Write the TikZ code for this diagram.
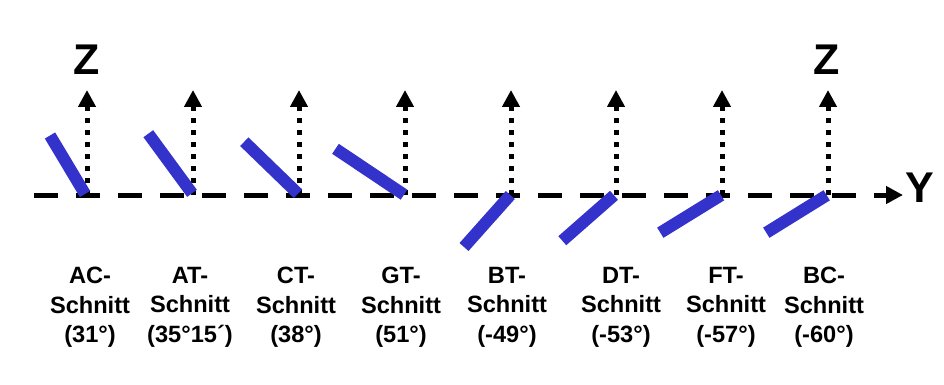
\documentclass[tikz,border=0pt]{standalone}
\usepackage{fontspec}
\setmainfont{Liberation Sans}
\usetikzlibrary{arrows.meta}
\definecolor{barblue}{RGB}{51,51,204}
\begin{document}
\begin{tikzpicture}[x=1pt,y=-1pt,
  tip/.style={-{Triangle[length=17pt,width=17pt]}},
  axisline/.style={line width=5pt, dash pattern=on 24pt off 18pt, tip},
  zaxis/.style={line width=5pt, dash pattern=on 5pt off 7pt, tip},
  crystal/.style={line width=12pt, barblue},
  lbl/.style={font=\bfseries\fontsize{23.6}{29.5}\selectfont, align=center, inner sep=0pt, anchor=north},
  axlbl/.style={font=\bfseries\fontsize{43}{43}\selectfont, inner sep=0pt}]
\useasboundingbox (0,0) rectangle (944,385);
% horizontal axis
\coordinate (ystart) at (34,195);
\coordinate (yend) at (903,195);
\draw[axisline] (ystart) -- (yend);
\node[axlbl] (ylab) at (919.5,187.4) {Y};
% vertical axes
\foreach \i/\x in {1/87,2/193,3/299,4/405,5/511,6/616,7/722,8/828}{
  \coordinate (o\i) at (\x,195);
  \coordinate (t\i) at (\x,90);
  \draw[zaxis] (o\i) -- (t\i);
}
\node[axlbl] (z1) at (87,60) {Z};
\node[axlbl] (z8) at (827,60) {Z};
% crystal cuts
\draw[crystal] (85,194) -- (50,135.5);
\draw[crystal] (192,193.3) -- (148.3,133.7);
\draw[crystal] (298,193.7) -- (244.3,141.7);
\draw[crystal] (404,194.7) -- (335.5,148.8);
\draw[crystal] (510.3,195) -- (464,247);
\draw[crystal] (614,195.3) -- (562.3,240.7);
\draw[crystal] (721,195.3) -- (660.3,232.7);
\draw[crystal] (826.7,195.3) -- (766.3,232.7);
% labels
\node[lbl] (l1) at (90,267) {AC-\\Schnitt\\(31°)};
\node[lbl] (l2) at (190,267) {AT-\\Schnitt\\(35°15´)};
\node[lbl] (l3) at (296,267) {CT-\\Schnitt\\(38°)};
\node[lbl] (l4) at (401,267) {GT-\\Schnitt\\(51°)};
\node[lbl] (l5) at (507,267) {BT-\\Schnitt\\(-49°)};
\node[lbl] (l6) at (621,267) {DT-\\Schnitt\\(-53°)};
\node[lbl] (l7) at (726,267) {FT-\\Schnitt\\(-57°)};
\node[lbl] (l8) at (824,267) {BC-\\Schnitt\\(-60°)};
\end{tikzpicture}
\end{document}
